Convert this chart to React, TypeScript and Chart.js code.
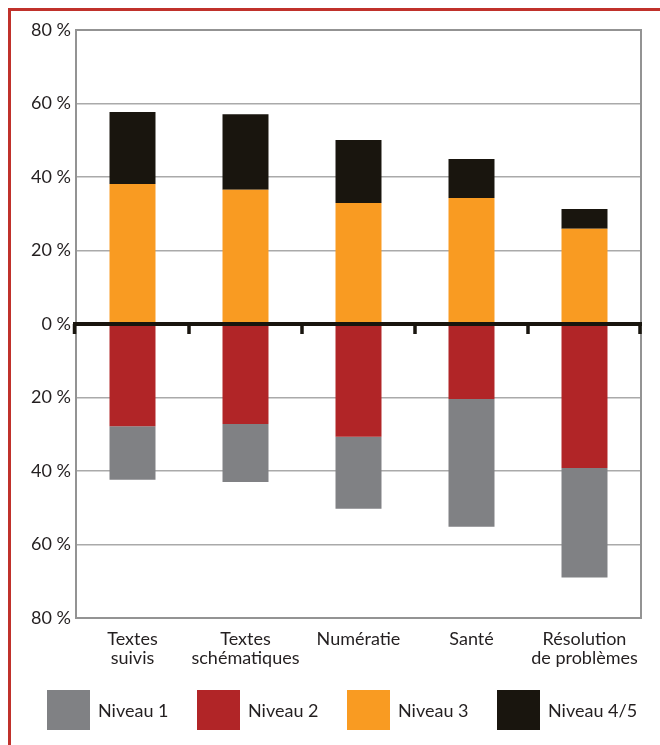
import React, { useEffect, useRef } from "react";
import { Chart, registerables } from "chart.js";

Chart.register(...registerables);

const categories: (string | string[])[] = [
  ["Textes", "suivis"],
  ["Textes", "schématiques"],
  "Numératie",
  "Santé",
  ["Résolution", "de problèmes"],
];

// segment sizes in %, negative = below the axis
const niveau2 = [-27.8, -27.2, -30.7, -20.4, -39.2];
const niveau1 = [-14.6, -15.8, -19.6, -34.8, -29.8];
const niveau3 = [38.1, 36.5, 32.9, 34.3, 25.9];
const niveau45 = [19.6, 20.6, 17.2, 10.6, 5.4];

const seriesNames = ["Niveau 1", "Niveau 2", "Niveau 3", "Niveau 4/5"];
const seriesColors = ["#808184", "#b12527", "#f99b22", "#19150e"];

const yMin = -80;
const yMax = 80;
const yStep = 20;
const tickSuffix = " %";

const FONT = { family: "Lato", size: 18, lineHeight: "19px" };
const TEXT = "#231f20";

const framePlugin = {
  id: "frameAndZero",
  beforeDatasetsDraw(chart: any) {
    const { ctx, chartArea } = chart;
    ctx.save();
    ctx.strokeStyle = "#939393";
    ctx.lineWidth = 2;
    ctx.strokeRect(
      chartArea.left,
      chartArea.top,
      chartArea.right - chartArea.left,
      chartArea.bottom - chartArea.top
    );
    ctx.restore();
  },
  afterDatasetsDraw(chart: any) {
    const { ctx, chartArea, scales } = chart;
    const x = scales.x;
    const y = scales.y;
    const y0 = y.getPixelForValue(0);
    ctx.save();
    ctx.strokeStyle = "#19150e";
    ctx.lineWidth = 4;
    ctx.beginPath();
    ctx.moveTo(chartArea.left - 3, y0);
    ctx.lineTo(chartArea.right + 1, y0);
    ctx.stroke();
    ctx.lineWidth = 3.5;
    const n = categories.length;
    for (let i = 0; i <= n; i++) {
      let px = x.getPixelForValue(i - 0.5);
      if (i === 0) px -= 1.5;
      if (i === n) px -= 1;
      ctx.beginPath();
      ctx.moveTo(px, y0);
      ctx.lineTo(px, y0 + 10);
      ctx.stroke();
    }
    ctx.restore();
  },
};

export default function App() {
  const ref = useRef<HTMLCanvasElement | null>(null);

  useEffect(() => {
    if (!ref.current) return;
    const mk = (idx: number, data: number[]) => ({
      label: seriesNames[idx],
      data,
      backgroundColor: seriesColors[idx],
      borderWidth: 0,
      barPercentage: 0.407,
      categoryPercentage: 1,
    });
    const chart = new Chart(ref.current, {
      type: "bar",
      data: {
        labels: categories,
        datasets: [mk(1, niveau2), mk(0, niveau1), mk(2, niveau3), mk(3, niveau45)],
      },
      options: {
        responsive: false,
        animation: false,
        layout: { padding: { left: 0, right: 19, top: 19, bottom: 67 } },
        plugins: {
          tooltip: { enabled: false },
          legend: { display: false },
        },
        scales: {
          x: {
            stacked: true,
            grid: { display: false, drawTicks: false },
            border: { display: false },
            ticks: {
              padding: 12,
              font: FONT,
              color: TEXT,
              maxRotation: 0,
              autoSkip: false,
            },
            afterFit: (s: any) => {
              s.height = 60;
            },
          },
          y: {
            stacked: true,
            min: yMin,
            max: yMax,
            grid: { color: "#aaaaaa", lineWidth: 1.5, drawTicks: false },
            border: { display: false },
            ticks: {
              stepSize: yStep,
              padding: 5,
              font: FONT,
              color: TEXT,
              callback: (v: any) => Math.abs(Number(v)) + tickSuffix,
            },
            afterFit: (s: any) => {
              s.width = 65;
            },
          },
        },
      },
      plugins: [framePlugin],
    });
    return () => chart.destroy();
  }, []);

  return (
    <div
      style={{
        position: "fixed",
        left: 8,
        top: 8,
        right: 0,
        bottom: 0,
        borderTop: "3px solid #c0312b",
        borderLeft: "3px solid #c0312b",
        background: "#fff",
        overflow: "hidden",
      }}
    >
      <canvas ref={ref} width={649} height={734} style={{ display: "block", width: 649, height: 734 }} />
      {seriesNames.map((name, i) => (
        <div
          key={name}
          style={{
            position: "absolute",
            left: 36 + 150 * i,
            top: 679,
            height: 40,
            display: "flex",
            alignItems: "center",
            fontFamily: "Lato",
            fontSize: 18,
            color: TEXT,
            whiteSpace: "nowrap",
          }}
        >
          <span style={{ display: "inline-block", width: 43, height: 40, background: seriesColors[i], marginRight: 8 }} />
          <span>{name}</span>
        </div>
      ))}
    </div>
  );
}
